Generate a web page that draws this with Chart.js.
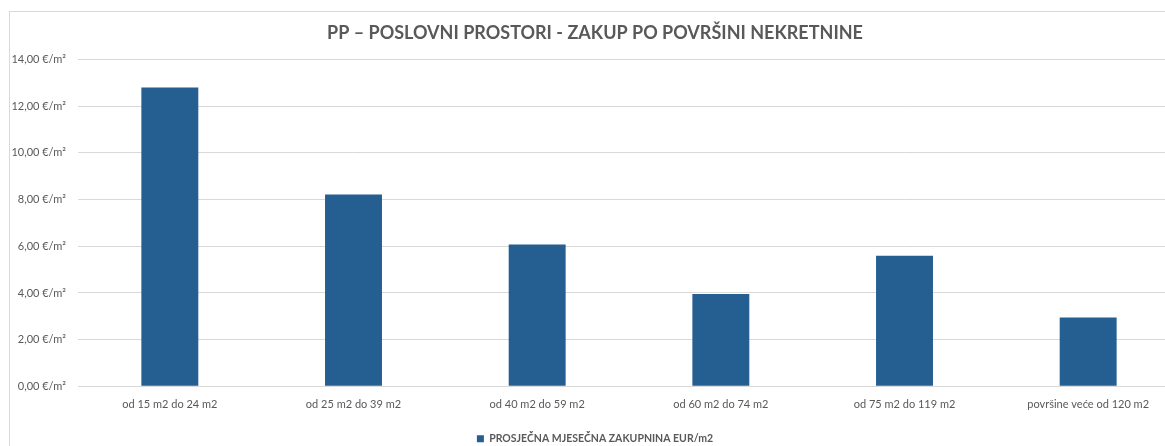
<!DOCTYPE html>
<html>
<head>
<meta charset="utf-8">
<script src="https://cdn.jsdelivr.net/npm/chart.js@4/dist/chart.umd.min.js"></script>
<style>
  html, body { margin: 0; padding: 0; background: #fff; overflow: hidden; }
  #wrap {
    position: absolute; left: 9px; top: 11px;
    width: 1172px; height: 442px;
    border-left: 1px solid #d9d9d9; border-top: 1px solid #d9d9d9;
  }
</style>
</head>
<body>
<div id="wrap"><canvas id="myChart"></canvas></div>
<script>
const categories = ['od 15 m2 do 24 m2', 'od 25 m2 do 39 m2', 'od 40 m2 do 59 m2',
                    'od 60 m2 do 74 m2', 'od 75 m2 do 119 m2', 'površine veće od 120 m2'];
const rentValues = [12.80, 8.22, 6.08, 3.95, 5.59, 2.95];
const seriesLabel = 'PROSJEČNA MJESEČNA ZAKUPNINA EUR/m2';
const chartTitle = 'PP – POSLOVNI PROSTORI - ZAKUP PO POVRŠINI NEKRETNINE';
const yMin = 0, yMax = 14, yStep = 2;

const textColor = '#595959';
const barColor = '#255e91';
const fontName = 'Lato, "Open Sans", sans-serif';

const ctx = document.getElementById('myChart').getContext('2d');

const myChart = new Chart(ctx, {
    type: 'bar',
    data: {
        labels: categories,
        datasets: [{
            label: seriesLabel,
            data: rentValues,
            backgroundColor: barColor,
            borderWidth: 0,
            barPercentage: 0.31,
            categoryPercentage: 1
        }]
    },
    options: {
        responsive: true,
        maintainAspectRatio: false,
        animation: false,
        layout: { padding: { left: 0, right: 2, top: 0, bottom: 0 } },
        plugins: {
            title: {
                display: true,
                text: chartTitle,
                color: textColor,
                font: { family: fontName, size: 18, weight: 'bold' },
                padding: { top: 10, bottom: 16 }
            },
            legend: {
                position: 'bottom',
                labels: {
                    color: textColor,
                    font: { family: fontName, size: 10.5, weight: 'bold' },
                    boxWidth: 7,
                    boxHeight: 7,
                    padding: 10
                }
            },
            tooltip: { enabled: false }
        },
        scales: {
            x: {
                grid: { display: false, drawTicks: false },
                border: { display: false },
                ticks: {
                    color: textColor,
                    font: { family: fontName, size: 11 },
                    padding: 12,
                    maxRotation: 0
                }
            },
            y: {
                min: yMin,
                max: yMax,
                grid: { color: '#d9d9d9', drawTicks: false, lineWidth: 1 },
                border: { display: false },
                ticks: {
                    stepSize: yStep,
                    color: textColor,
                    font: { family: fontName, size: 11 },
                    padding: 12,
                    callback: v => v.toFixed(2).replace('.', ',') + ' €/m²'
                },
                afterFit: scale => { scale.width = 68; }
            }
        }
    }
});
</script>
</body>
</html>
